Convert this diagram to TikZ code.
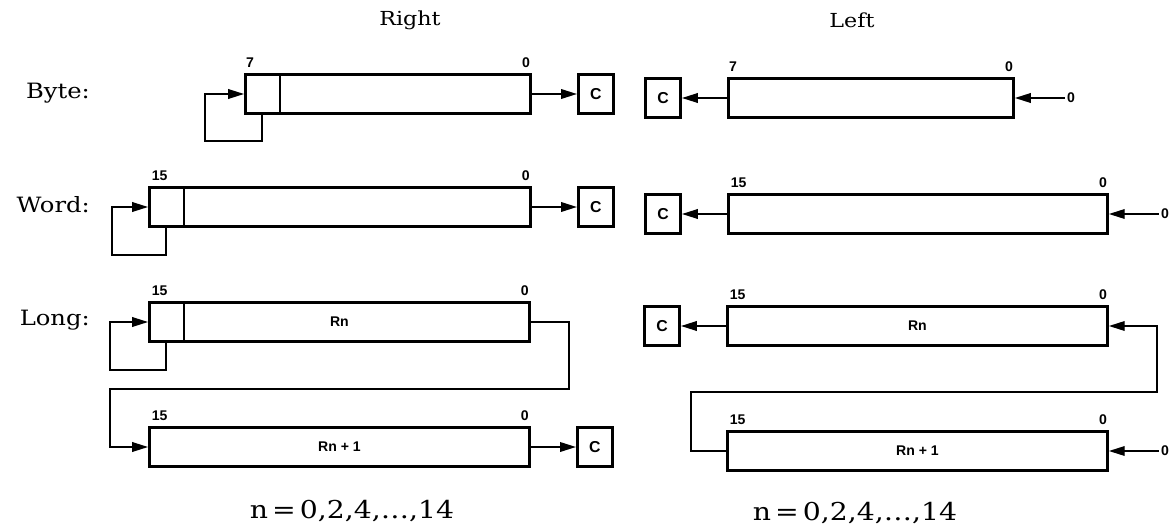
\documentclass[tikz,border=0pt]{standalone}
\usepackage{fontspec}
\setsansfont{Liberation Sans}
\newfontfamily\slabfont[FakeStretch=1.15]{DejaVu Serif}
\usetikzlibrary{arrows.meta,positioning}

\tikzset{
  reg/.style={draw, line width=1.7pt, minimum height=0.78cm, inner sep=0pt, anchor=north west,
    font=\sffamily\bfseries\fontsize{8}{9}\selectfont},
  cbox/.style={draw, line width=1.7pt, minimum width=0.7cm, minimum height=0.78cm, inner sep=0pt,
    font=\sffamily\bfseries\fontsize{9}{10}\selectfont},
  bit/.style={inner sep=1pt, font=\sffamily\bfseries\fontsize{8}{9}\selectfont},
  lbl/.style={font=\slabfont\fontsize{12}{14}\selectfont},
  arr/.style={line width=0.8pt, -{Triangle[length=9pt,width=5.5pt]}},
  wire/.style={line width=0.8pt},
}

\begin{document}
\begin{tikzpicture}[x=0.02cm, y=-0.02cm]
  \useasboundingbox (0,0) rectangle (1176,529);

  % Column titles and row labels
  \node[lbl, font=\slabfont\fontsize{11}{13}\selectfont] (tright) at (410,20) {Right};
  \node[lbl, font=\slabfont\fontsize{11}{13}\selectfont] (tleft) at (852,20) {Left};
  \node[lbl, anchor=east] (lbyte) at (96,93) {Byte:};
  \node[lbl, anchor=east] (lword) at (96,205) {Word:};
  \node[lbl, anchor=east] (llong) at (96,320) {Long:};

  % Right shift: byte
  \node[reg, minimum width=5.7cm] (rbyte) at (244,73) {};
  \node[cbox, right=0.9cm of rbyte] (rcb) {C};
  \node[bit, anchor=south west] (rbyte7) at ([yshift=2pt]rbyte.north west) {7};
  \node[bit, anchor=south east] (rbyte0) at ([yshift=2pt]rbyte.north east) {0};
  \draw[wire] ([xshift=0.72cm]rbyte.north west) -- ([xshift=0.72cm]rbyte.south west);   % Sign bit
  \draw[arr] (rbyte.east) -- (rcb.west);
  \draw[arr] ([xshift=0.36cm]rbyte.south west) -- ++(0,26) -| ([xshift=-0.78cm]rbyte.west) -- (rbyte.west);

  % Right shift: word
  \node[reg, minimum width=7.62cm] (rword) at (148,186) {};
  \node[cbox, right=0.9cm of rword] (rcw) {C};
  \node[bit, anchor=south west] (rword15) at ([xshift=1pt,yshift=2pt]rword.north west) {15};
  \node[bit, anchor=south east] (rword0) at ([yshift=2pt]rword.north east) {0};
  \draw[wire] ([xshift=0.72cm]rword.north west) -- ([xshift=0.72cm]rword.south west);   % Sign bit
  \draw[arr] (rword.east) -- (rcw.west);
  \draw[arr] ([xshift=0.36cm]rword.south west) -- ++(0,27) -| ([xshift=-0.72cm]rword.west) -- (rword.west);

  % Right shift: long (Rn, Rn+1)
  \node[reg, minimum width=7.6cm] (rlo) at (148,301) {Rn};
  \node[reg, minimum width=7.6cm] (rhi) at (148,426) {Rn + 1};
  \node[cbox, right=0.9cm of rhi] (rcl) {C};
  \node[bit, anchor=south west] (rlo15) at ([xshift=1pt,yshift=2pt]rlo.north west) {15};
  \node[bit, anchor=south east] (rlo0) at ([yshift=2pt]rlo.north east) {0};
  \node[bit, anchor=south west] (rhi15) at ([xshift=1pt,yshift=2pt]rhi.north west) {15};
  \node[bit, anchor=south east] (rhi0) at ([yshift=2pt]rhi.north east) {0};
  \draw[wire] ([xshift=0.72cm]rlo.north west) -- ([xshift=0.72cm]rlo.south west);       % Sign bit
  \draw[arr] ([xshift=0.36cm]rlo.south west) -- ++(0,27) -| ([xshift=-0.76cm]rlo.west) -- (rlo.west);
  \draw[arr] (rlo.east) -- ++(38,0) -- ++(0,67) -| ([xshift=-0.76cm]rhi.west) -- (rhi.west);
  \draw[arr] (rhi.east) -- (rcl.west);
  \node[lbl, font=\slabfont\fontsize{14}{16}\selectfont] (rnote) at (352,511) {n\,=\,0,2,4,\ldots,14};

  % Left shift: byte
  \node[reg, minimum width=5.7cm] (lb) at (727,77) {};
  \node[cbox, left=0.9cm of lb] (lcb) {C};
  \node[bit, right=1cm of lb] (lbin) {0};
  \node[bit, anchor=south west] (lb7) at ([yshift=2pt]lb.north west) {7};
  \node[bit, anchor=south east] (lb0) at ([yshift=2pt]lb.north east) {0};
  \draw[arr] (lb.west) -- (lcb.east);
  \draw[arr] (lbin.west) -- (lb.east);

  % Left shift: word
  \node[reg, minimum width=7.58cm] (lw) at (727,193) {};
  \node[cbox, left=0.9cm of lw] (lcw) {C};
  \node[bit, right=1cm of lw] (lwin) {0};
  \node[bit, anchor=south west] (lw15) at ([xshift=1pt,yshift=2pt]lw.north west) {15};
  \node[bit, anchor=south east] (lw0) at ([yshift=2pt]lw.north east) {0};
  \draw[arr] (lw.west) -- (lcw.east);
  \draw[arr] (lwin.west) -- (lw.east);

  % Left shift: long (Rn, Rn+1)
  \node[reg, minimum width=7.6cm] (llo) at (726,305) {Rn};
  \node[reg, minimum width=7.6cm] (lhi) at (726,430) {Rn + 1};
  \node[cbox, left=0.9cm of llo] (lcl) {C};
  \node[bit, right=1cm of lhi] (lhin) {0};
  \node[bit, anchor=south west] (llo15) at ([xshift=1pt,yshift=2pt]llo.north west) {15};
  \node[bit, anchor=south east] (llo0) at ([yshift=2pt]llo.north east) {0};
  \node[bit, anchor=south west] (lhi15) at ([xshift=1pt,yshift=2pt]lhi.north west) {15};
  \node[bit, anchor=south east] (lhi0) at ([yshift=2pt]lhi.north east) {0};
  \draw[arr] (llo.west) -- (lcl.east);
  \draw[arr] (lhi.west) -- ++(-35,0) -- ++(0,-59) -| ([xshift=0.96cm]llo.east) -- (llo.east);
  \draw[arr] (lhin.west) -- (lhi.east);
  \node[lbl, font=\slabfont\fontsize{14}{16}\selectfont] (lnote) at (855,513) {n\,=\,0,2,4,\ldots,14};
\end{tikzpicture}
\end{document}
